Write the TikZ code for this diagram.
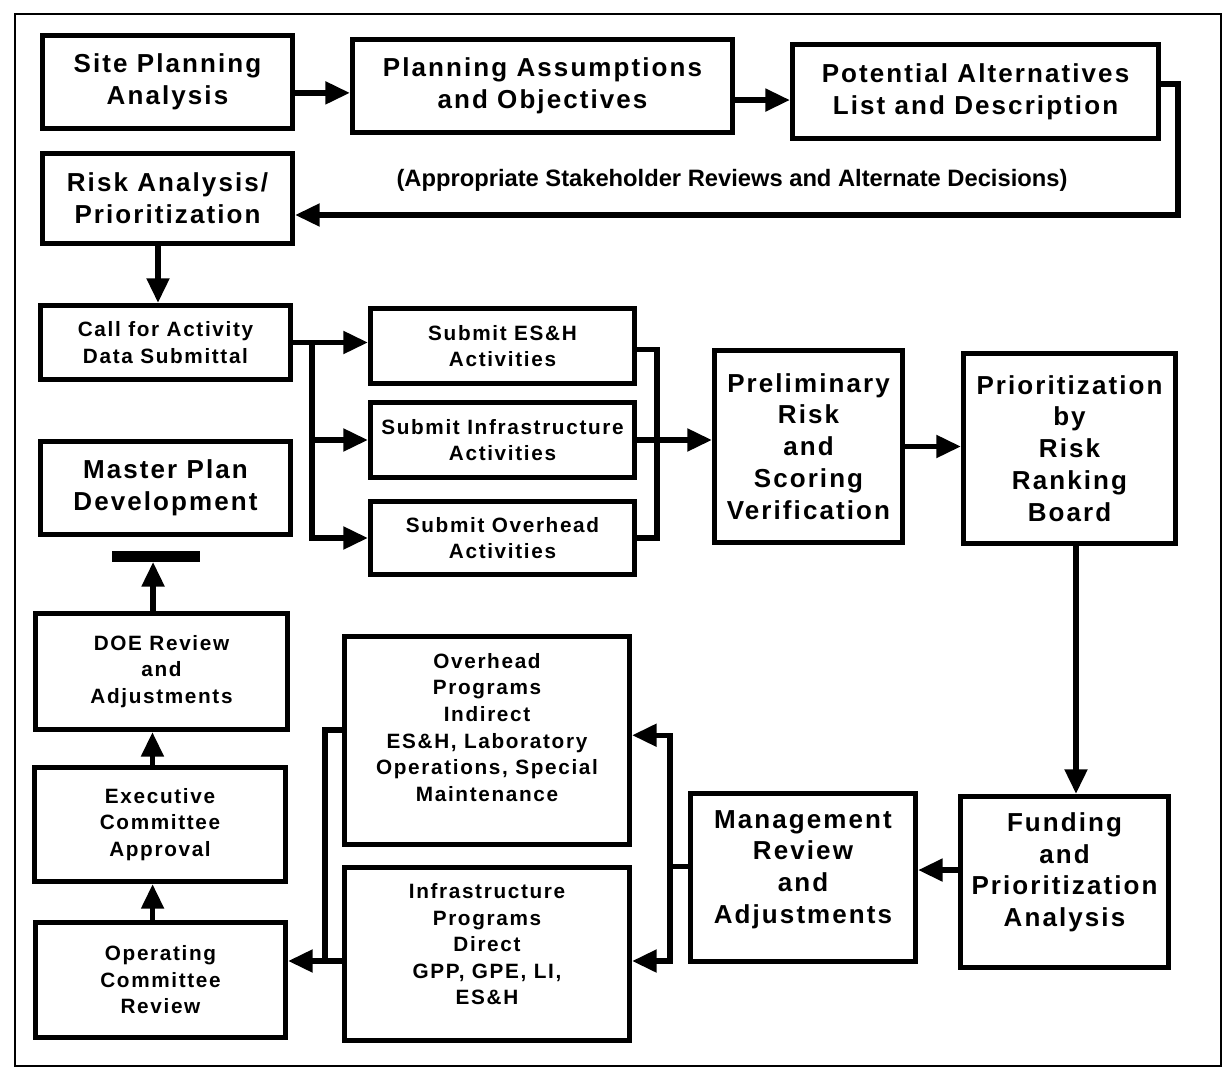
\documentclass[tikz,border=0pt]{standalone}
\usepackage{fontspec}
\setmainfont{Liberation Sans}
\newfontfamily\spacedfont{Liberation Sans}[LetterSpace=8]
\usetikzlibrary{calc,arrows.meta,positioning}

\tikzset{
  box/.style={draw, line width=3pt, align=center, inner sep=2pt},
  bigbox/.style={box, font=\spacedfont\bfseries\fontsize{14.8}{18.1}\selectfont},
  smallbox/.style={box, font=\spacedfont\bfseries\fontsize{11.8}{15.1}\selectfont},
  note/.style={font=\bfseries\fontsize{13.5}{16}\selectfont},
  arr/.style={line width=3pt, -{Triangle[length=14pt,width=12.5pt]}},
  wire/.style={line width=3pt}
}

\begin{document}
\begin{tikzpicture}[x=0.02cm, y=-0.02cm]
	\useasboundingbox (0,0) rectangle (1228,1074);
	\draw[line width=1.2pt] (15,14) rectangle (1221,1066);

	\node[bigbox, minimum width=5cm, minimum height=1.86cm] (site) at (167.5,82) {Site Planning\\Analysis};
	\node[bigbox, minimum width=7.6cm, minimum height=1.86cm] (assume) at (542.5,86) {Planning Assumptions\\and Objectives};
	\node[bigbox, minimum width=7.32cm, minimum height=1.88cm] (altern) at (975.5,91.5) {Potential Alternatives\\List and Description};
	\node[bigbox, minimum width=5cm, minimum height=1.8cm] (risk) at (167.5,198.5) {Risk Analysis/\\Prioritization};
	\node[note] (stake) at (732,180) {(Appropriate Stakeholder Reviews and Alternate Decisions)};

	\node[smallbox, minimum width=5cm, minimum height=1.48cm] (call) at (165.5,342.5) {Call for Activity\\Data Submittal};
	\node[smallbox, minimum width=5.28cm, minimum height=1.5cm] (esh) at (502.5,346) {Submit ES\&H\\Activities};
	\node[smallbox, minimum width=5.28cm, minimum height=1.5cm] (infra) at (502.5,440) {Submit Infrastructure\\Activities};
	\node[smallbox, minimum width=5.28cm, minimum height=1.46cm] (ovhd) at (502.5,538) {Submit Overhead\\Activities};
	\node[bigbox, minimum width=3.76cm, minimum height=3.84cm] (prelim) at (808.5,446.5) {Preliminary\\Risk\\and\\Scoring\\Verification};
	\node[bigbox, minimum width=4.24cm, minimum height=3.8cm] (board) at (1069.5,448.5) {Prioritization\\by\\Risk\\Ranking\\Board};
	\node[bigbox, minimum width=5cm, minimum height=1.86cm] (master) at (165.5,488) {Master Plan\\Development};

	\node[smallbox, minimum width=5.04cm, minimum height=2.32cm] (doe) at (161.5,671.5) {DOE Review\\and\\Adjustments};
	\node[smallbox, minimum width=5.02cm, minimum height=2.28cm] (exec) at (160,824.5) {Executive\\Committee\\Approval};
	\node[smallbox, minimum width=5cm, minimum height=2.3cm] (oper) at (160.5,980) {Operating\\Committee\\Review};
	\node[smallbox, minimum width=5.7cm, minimum height=4.16cm] (ohprog) at (487,740.5) {Overhead\\Programs\\Indirect\\ES\&H, Laboratory\\Operations, Special\\Maintenance\\~};
	\node[smallbox, minimum width=5.7cm, minimum height=3.46cm] (infprog) at (487,954) {Infrastructure\\Programs\\Direct\\GPP, GPE, LI,\\ES\&H\\[-4pt]~};
	\node[bigbox, minimum width=4.5cm, minimum height=3.36cm] (mgmt) at (803,877.5) {Management\\Review\\and\\Adjustments\\[-6pt]~};
	\node[bigbox, minimum width=4.16cm, minimum height=3.42cm] (fund) at (1064.5,882) {Funding\\and\\Prioritization\\Analysis\\[-4pt]~};

	\fill (112,551) rectangle (200,562);
	\coordinate (bar) at (156,562);
	\coordinate (fbk) at (1178,215);
	\coordinate (split) at ($(call.east)+(19,0)$);
	\coordinate (join) at ($(infra.east)+(20,0)$);
	\coordinate (mfork) at ($(mgmt.west)+(-18,-11)$);
	\coordinate (ofork) at ($(infprog.west)+(-17,7)$);

	\draw[arr] ([yshift=-6.2pt]site.east) -- ([yshift=-6.2pt]site.east -| assume.west);
	\draw[arr] ([yshift=-8pt]assume.east) -- ([yshift=-8pt]assume.east -| altern.west);
	\draw[arr] ([yshift=4.3pt]altern.east) -| (fbk) -- (fbk -| risk.east);
	\draw[arr] ([xshift=-5.4pt]risk.south) -- ([xshift=-5.4pt]risk.south |- call.north);

	\draw[arr] (call.east) -- (call.east -| esh.west);
	\draw[arr] (split) |- (infra.west);
	\draw[arr] (split) |- (ovhd.west);
	\draw[wire] ([yshift=-2pt]esh.east) -| (join) |- (ovhd.east);
	\draw[arr] (infra.east) -- (infra.east -| prelim.west);
	\draw[arr] (prelim.east) -- (prelim.east -| board.west);
	\draw[arr] ([xshift=3.7pt]board.south) -- ([xshift=3.7pt]board.south |- fund.north);
	\draw[arr] ([yshift=6.8pt]fund.west) -- ([yshift=6.8pt]fund.west -| mgmt.east);

	\draw[wire] (mgmt.west |- mfork) -- (mfork);
	\draw[arr] (mfork) |- ([yshift=3pt]ohprog.east);
	\draw[arr] (mfork) |- ([yshift=-4pt]infprog.east);
	\draw[wire] ([yshift=6pt]ohprog.west) -| (ofork);
	\draw[arr] (infprog.west |- ofork) -- (ofork -| oper.east);

	\draw[arr] ([xshift=-4.5pt]oper.north) -- ([xshift=-4.5pt]oper.north |- exec.south);
	\draw[arr] ([xshift=-4.3pt]exec.north) -- ([xshift=-4.3pt]exec.north |- doe.south);
	\draw[arr] ([xshift=-4.8pt]doe.north) -- ([xshift=-4.8pt]doe.north |- bar);
\end{tikzpicture}
\end{document}
